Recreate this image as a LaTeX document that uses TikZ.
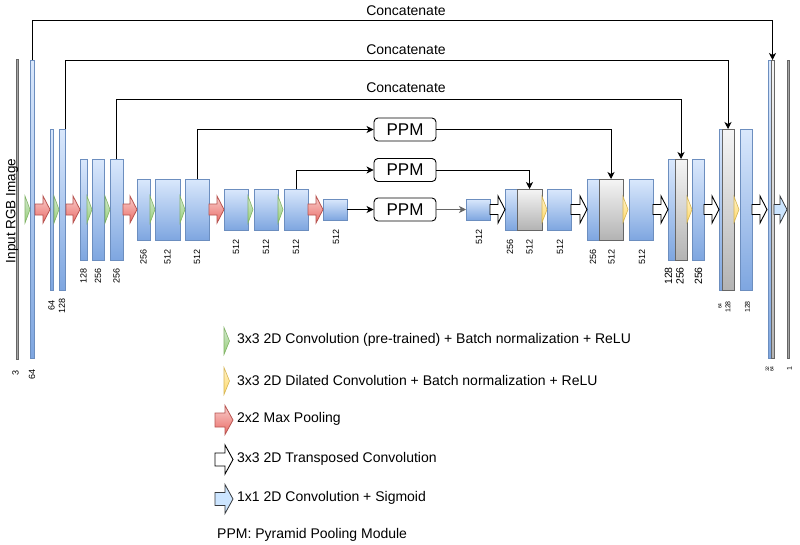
\documentclass[tikz,border=0pt]{standalone}
\usepackage{fontspec}
\setmainfont{Liberation Sans}
\usetikzlibrary{arrows.meta}
\definecolor{btop}{HTML}{DAE8FC}
\definecolor{bbot}{HTML}{7EA6E0}
\definecolor{bstroke}{HTML}{6C8EBF}
\definecolor{gtop}{HTML}{F5F5F5}
\definecolor{gbot}{HTML}{B3B3B3}
\definecolor{gstroke}{HTML}{666666}
\definecolor{rtop}{HTML}{F8CECC}
\definecolor{rbot}{HTML}{EA6B66}
\definecolor{rstroke}{HTML}{B85450}
\definecolor{grtop}{HTML}{D5E8D4}
\definecolor{grbot}{HTML}{97D077}
\definecolor{grstroke}{HTML}{82B366}
\definecolor{ytop}{HTML}{FFF2CC}
\definecolor{ybot}{HTML}{FFD966}
\definecolor{ystroke}{HTML}{D6B656}
\definecolor{lbfill}{HTML}{CCE5FF}
\definecolor{lbstroke}{HTML}{36393D}
\newcommand\myarrow[7]{\draw[#1] (#2,#4-#5) -- (#3-#7,#4-#5) -- (#3-#7,#4-#6) -- (#3,#4) -- (#3-#7,#4+#6) -- (#3-#7,#4+#5) -- (#2,#4+#5) -- cycle;}
\newcommand\mytri[5]{\draw[#1] (#2,#3-#5) -- (#2+#4,#3) -- (#2,#3+#5) -- cycle;}
\tikzset{
  bar/.style={rectangle, inner sep=0pt, outer sep=0pt, line width=0.8pt},
  bluebar/.style={bar, draw=bstroke, top color=btop, bottom color=bbot},
  graybar/.style={bar, draw=gstroke, top color=gtop, bottom color=gbot},
  edgebar/.style={bar, draw=gstroke, fill=gray!70, line width=0.6pt},
  redarr/.style={draw=rstroke, top color=rtop, bottom color=rbot, line width=0.8pt},
  whitearr/.style={draw=black, fill=white, line width=0.9pt},
  lbarr/.style={draw=lbstroke, fill=lbfill, line width=0.8pt},
  greentri/.style={draw=grstroke, top color=grtop, bottom color=grbot, line width=0.6pt},
  yellowtri/.style={draw=ystroke, top color=ytop, bottom color=ybot, line width=0.6pt},
  num/.style={rotate=90, inner sep=0pt, font=\fontsize{9}{9}\selectfont},
  numb/.style={rotate=90, inner sep=0pt, font=\fontsize{10.5}{10.5}\selectfont},
  nums/.style={rotate=90, inner sep=0pt, font=\fontsize{7}{7}\selectfont},
  numt/.style={rotate=90, inner sep=0pt, font=\fontsize{5}{5}\selectfont},
  conn/.style={draw=black, line width=0.9pt, -{Stealth[length=7pt,width=7pt,inset=2pt]}},
  ppmbox/.style={draw=black, fill=white, rounded corners=4pt, line width=0.9pt, minimum width=62pt, minimum height=23pt, inner sep=0pt, font=\fontsize{17}{17}\selectfont},
  lbl/.style={inner sep=0pt, font=\fontsize{14}{14}\selectfont},
  legtext/.style={anchor=west, inner sep=0pt, font=\fontsize{14}{14}\selectfont}
}
\begin{document}
\begin{tikzpicture}[x=1pt,y=-1pt]
\useasboundingbox[fill=white] (0,0) rectangle (800,544);
% input / output lines
\node[edgebar, minimum width=2pt, minimum height=300pt] (inp) at (17,209) {};
\node[edgebar, minimum width=2pt, minimum height=298pt] (out) at (788,209) {};
\node[inner sep=0pt, rotate=90, font=\fontsize{13.5}{13.5}\selectfont] (inlabel) at (12,211) {Input RGB Image};
% encoder bars
\node[bluebar, minimum width=4pt, minimum height=298pt] (e1) at (32,209) {};
\node[bluebar, minimum width=3.5pt, minimum height=161pt] (e2) at (51.75,209.5) {};
\node[bluebar, minimum width=6pt, minimum height=161pt] (e3) at (62,209.5) {};
\node[bluebar, minimum width=7pt, minimum height=101pt] (e4) at (83.5,209.5) {};
\node[bluebar, minimum width=12pt, minimum height=101pt] (e5) at (98,209.5) {};
\node[bluebar, minimum width=13pt, minimum height=101pt] (e6) at (116.5,209.5) {};
\node[bluebar, minimum width=13pt, minimum height=61pt] (e7) at (143.5,209.5) {};
\node[bluebar, minimum width=25pt, minimum height=61pt] (e8) at (167.5,209.5) {};
\node[bluebar, minimum width=24pt, minimum height=61pt] (e9) at (197,209.5) {};
\node[bluebar, minimum width=24pt, minimum height=41pt] (e10) at (236,209.5) {};
\node[bluebar, minimum width=24pt, minimum height=41pt] (e11) at (266,209.5) {};
\node[bluebar, minimum width=24pt, minimum height=41pt] (e12) at (296,209.5) {};
\node[bluebar, minimum width=24pt, minimum height=21pt] (e13) at (335,209.5) {};
% decoder bars
\node[bluebar, minimum width=24pt, minimum height=21pt] (d1) at (478,209.5) {};
\node[bluebar, minimum width=12pt, minimum height=41pt] (d2b) at (511,209.5) {};
\node[graybar, minimum width=25pt, minimum height=41pt] (d2g) at (529.5,209.5) {};
\node[bluebar, minimum width=24pt, minimum height=41pt] (d3) at (559,209.5) {};
\node[bluebar, minimum width=12pt, minimum height=61pt] (d4b) at (593,209.5) {};
\node[graybar, minimum width=24pt, minimum height=61pt] (d4g) at (611,209.5) {};
\node[bluebar, minimum width=24pt, minimum height=61pt] (d5) at (641,209.5) {};
\node[bluebar, minimum width=7pt, minimum height=101pt] (d6b) at (671.5,209.5) {};
\node[graybar, minimum width=12pt, minimum height=101pt] (d6g) at (681,209.5) {};
\node[bluebar, minimum width=12pt, minimum height=101pt] (d7) at (698,209.5) {};
\node[bluebar, minimum width=3pt, minimum height=161pt] (d8b) at (720.5,209.5) {};
\node[graybar, minimum width=12pt, minimum height=161pt] (d8g) at (728,209.5) {};
\node[bluebar, minimum width=12pt, minimum height=161pt] (d9) at (746,209.5) {};
\node[bluebar, minimum width=3pt, minimum height=298pt] (d10b) at (769.5,209) {};
\node[graybar, minimum width=3pt, minimum height=298pt] (d10g) at (772.5,209) {};
% operation arrows
\mytri{greentri}{25}{209.5}{5}{13.5}
\mytri{greentri}{54}{209.5}{5}{13.5}
\mytri{greentri}{87}{209.5}{5}{13.5}
\mytri{greentri}{105}{209.5}{5}{13.5}
\mytri{greentri}{150}{209.5}{5}{13.5}
\mytri{greentri}{180}{209.5}{5}{13.5}
\mytri{greentri}{248}{209.5}{5}{13.5}
\mytri{greentri}{278}{209.5}{5}{13.5}
\myarrow{redarr}{35}{50}{209.5}{5.5}{13.5}{7}
\myarrow{redarr}{66}{80}{209.5}{5.5}{13.5}{7}
\myarrow{redarr}{123}{137}{209.5}{5.5}{13.5}{7}
\myarrow{redarr}{209}{224}{209.5}{5.5}{13.5}{7}
\myarrow{redarr}{308}{323}{209.5}{5.5}{13.5}{7}
\mytri{yellowtri}{542}{209.5}{5}{13}
\mytri{yellowtri}{623}{209.5}{5}{13}
\mytri{yellowtri}{687}{209.5}{5}{13}
\mytri{yellowtri}{734}{209.5}{5}{13}
\myarrow{whitearr}{490}{505}{209.5}{5}{13.5}{7}
\myarrow{whitearr}{571}{587}{209.5}{5}{13.5}{7}
\myarrow{whitearr}{653}{668}{209.5}{5}{13.5}{7}
\myarrow{whitearr}{704}{719}{209.5}{5}{13.5}{7}
\myarrow{whitearr}{752}{767}{209.5}{5}{13.5}{7}
\myarrow{lbarr}{774}{787}{209.5}{5}{13.5}{7}
% PPM boxes
\node[ppmbox] (ppm1) at (405,129.5) {PPM};
\node[ppmbox] (ppm2) at (405,170) {PPM};
\node[ppmbox] (ppm3) at (405,209.5) {PPM};
% concatenations
\coordinate (c1) at (0,20);
\coordinate (c2) at (0,60);
\coordinate (c3) at (0,99);
\draw[conn] (e1.north) -- (e1.north |- c1) -| (d10g.north);
\draw[conn] (e3.north east) -- (e3.north east |- c2) -| (d8g.north);
\draw[conn] (e6.north) -- (e6.north |- c3) -| (d6g.north);
\node[lbl] (cat1) at (406,11) {Concatenate};
\node[lbl] (cat2) at (406,50) {Concatenate};
\node[lbl] (cat3) at (406,88) {Concatenate};
% PPM connections
\draw[conn] (e9.north) |- (ppm1.west);
\draw[conn] (ppm1.east) -| (d4g.north);
\draw[conn] (e12.north) |- (ppm2.west);
\draw[conn] (ppm2.east) -| (d2g.north);
\draw[conn] (e13.east) -- (ppm3.west);
\draw[conn, draw=gstroke] (ppm3.east) -- (d1.west);
% channel labels
\node[num] (l0) at (15.5,373) {3};
\node[num] (l1) at (32,374) {64};
\node[num] (l2) at (51.5,305) {64};
\node[num] (l3) at (62,306) {128};
\node[num] (l4) at (83.5,276) {128};
\node[num] (l5) at (98,276) {256};
\node[num] (l6) at (116.5,276) {256};
\node[num] (l7) at (143.5,257) {256};
\node[num] (l8) at (167.5,257) {512};
\node[num] (l9) at (197,257) {512};
\node[num] (l10) at (236,247) {512};
\node[num] (l11) at (266,247) {512};
\node[num] (l12) at (296,247) {512};
\node[num] (l13) at (336,237) {512};
\node[num] (ld1) at (479,237) {512};
\node[num] (ld2b) at (510,247) {256};
\node[num] (ld2g) at (529.5,247) {512};
\node[num] (ld3) at (560,247) {512};
\node[num] (ld4b) at (593,257) {256};
\node[num] (ld4g) at (611.5,257) {512};
\node[num] (ld5) at (642,257) {512};
\node[numb] (ld6b) at (668.5,276) {128};
\node[numb] (ld6g) at (680,276) {256};
\node[numb] (ld7) at (698.5,276) {256};
\node[numt] (ld8b) at (720,306) {64};
\node[nums] (ld8g) at (728,307) {128};
\node[nums] (ld9) at (747.5,307) {128};
\node[numt] (ld10b) at (767.5,369) {32};
\node[numt] (ld10g) at (772,369) {64};
\node[nums] (lout) at (789.5,369) {1};
% legend
\mytri{greentri}{224}{341}{5.5}{13.5}
\mytri{yellowtri}{224}{381}{5.5}{13.5}
\myarrow{redarr}{215}{233}{420}{7}{14.5}{8}
\myarrow{whitearr}{215}{233}{459.5}{6.5}{14.5}{8}
\myarrow{lbarr}{215}{233}{499}{6.5}{14.5}{8}
\node[legtext] (t1) at (237,340) {3x3 2D Convolution (pre-trained) + Batch normalization + ReLU};
\node[legtext] (t2) at (237,380) {3x3 2D Dilated Convolution + Batch normalization + ReLU};
\node[legtext] (t3) at (237,419) {2x2 Max Pooling};
\node[legtext] (t4) at (237,459) {3x3 2D Transposed Convolution};
\node[legtext] (t5) at (237,498) {1x1 2D Convolution + Sigmoid};
\node[legtext] (t6) at (217,535) {PPM: Pyramid Pooling Module};
\end{tikzpicture}
\end{document}
